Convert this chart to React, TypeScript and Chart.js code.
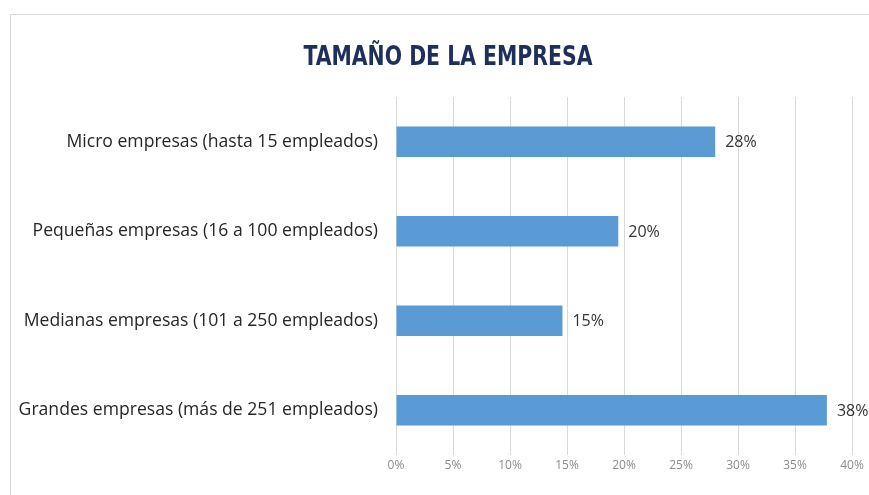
import React, { useEffect, useRef } from "react";
import { Chart, registerables } from "chart.js";

Chart.register(...registerables);

const TITLE = "TAMAÑO DE LA EMPRESA";
const categories = [
  "Micro empresas (hasta 15 empleados)",
  "Pequeñas empresas (16 a 100 empleados)",
  "Medianas empresas (101 a 250 empleados)",
  "Grandes empresas (más de 251 empleados)",
];
const values = [28, 19.5, 14.6, 37.8];
const xTicks = [0, 5, 10, 15, 20, 25, 30, 35, 40];

const LABEL_FONT = "'Open Sans', 'DejaVu Sans', sans-serif";
const TITLE_FONT = "'Liberation Sans Narrow', 'DejaVu Sans Condensed', 'Open Sans', sans-serif";

export default function App() {
  const ref = useRef<HTMLCanvasElement | null>(null);

  useEffect(() => {
    if (!ref.current) return;
    const titlePlugin = {
      id: "titleDraw",
      afterDraw(chart: any) {
        const ctx = chart.ctx;
        ctx.save();
        ctx.font = `bold 27px ${TITLE_FONT}`;
        ctx.fillStyle = "#1F2F5C";
        ctx.textAlign = "center";
        ctx.textBaseline = "middle";
        const w = ctx.measureText(TITLE).width;
        const sx = Math.min(1, 289 / w);
        ctx.translate(448, 58);
        ctx.scale(sx, 1);
        ctx.fillText(TITLE, 0, 0);
        ctx.restore();
      },
    };
    const labelPlugin = {
      id: "barLabels",
      afterDatasetsDraw(chart: any) {
        const ctx = chart.ctx;
        const meta = chart.getDatasetMeta(0);
        ctx.save();
        ctx.font = `16px ${LABEL_FONT}`;
        ctx.fillStyle = "#333333";
        ctx.textAlign = "left";
        ctx.textBaseline = "middle";
        meta.data.forEach((el: any, i: number) => {
          ctx.fillText(Math.round(values[i]) + "%", el.x + 10, el.y + 1);
        });
        ctx.restore();
      },
    };
    const chart = new Chart(ref.current, {
      type: "bar",
      data: {
        labels: categories,
        datasets: [
          {
            data: values,
            backgroundColor: "#5B9BD5",
            borderWidth: 0,
            categoryPercentage: 1,
            barPercentage: 0.34,
          },
        ],
      },
      options: {
        indexAxis: "y",
        responsive: false,
        animation: false,
        layout: { padding: { top: 97, right: 17, bottom: 15, left: 0 } },
        plugins: {
          legend: { display: false },
          title: { display: false },
          tooltip: { enabled: false },
        },
        scales: {
          x: {
            min: 0,
            max: 40,
            afterBuildTicks(scale: any) {
              scale.ticks = xTicks.map((v) => ({ value: v }));
            },
            afterFit(scale: any) {
              scale.height = 25;
            },
            ticks: {
              padding: 3,
              color: "#8C8C8C",
              font: { family: LABEL_FONT, size: 12 },
              callback: (v: any) => v + "%",
            },
            grid: { color: "#D9D9D9", drawTicks: false },
            border: { display: false },
          },
          y: {
            afterFit(scale: any) {
              scale.width = 396;
            },
            ticks: {
              padding: 18,
              color: "#262626",
              font: { family: LABEL_FONT, size: 17.6 },
            },
            grid: { display: false, drawTicks: false },
            border: { display: false },
          },
        },
      },
      plugins: [titlePlugin, labelPlugin],
    });
    return () => chart.destroy();
  }, []);

  return (
    <div style={{ position: "fixed", left: 0, top: 0, width: 869, height: 495, background: "#fff", overflow: "hidden" }}>
      <div
        style={{
          position: "absolute",
          left: 10,
          top: 14,
          width: 900,
          height: 520,
          borderTop: "1px solid #D9D9D9",
          borderLeft: "1px solid #D9D9D9",
        }}
      />
      <canvas ref={ref} width={869} height={495} style={{ position: "absolute", left: 0, top: 0, width: 869, height: 495 }} />
    </div>
  );
}
